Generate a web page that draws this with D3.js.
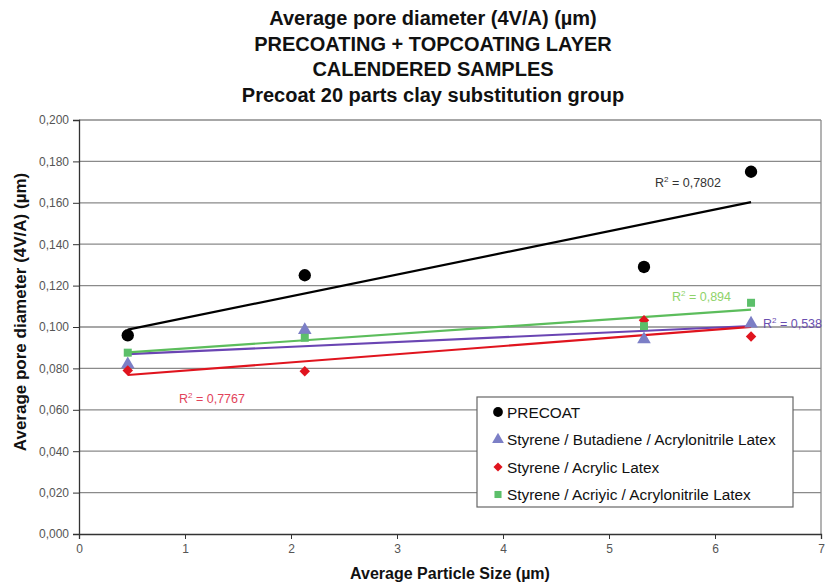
<!DOCTYPE html>
<html>
<head>
<meta charset="utf-8">
<script src="https://cdn.jsdelivr.net/npm/d3@7"></script>
<style>
  body { margin: 0; background: #fff; }
  svg { display: block; }
  .lbl { font-family: "Liberation Sans", Arial, sans-serif; }
</style>
</head>
<body>
<svg width="825" height="584"></svg>
<script>
const titleLines = [
  "Average pore diameter (4V/A) (\u00b5m)",
  "PRECOATING + TOPCOATING LAYER",
  "CALENDERED SAMPLES",
  "Precoat 20 parts clay substitution group"
];
const xLabel = "Average Particle Size (\u00b5m)";
const yLabel = "Average pore diameter (4V/A) (\u00b5m)";

const particleSize = [0.46, 2.13, 5.33, 6.34];
const precoat = [0.096, 0.125, 0.129, 0.175];
const sbaLatex = [0.082, 0.0985, 0.094, 0.1017];
const saLatex = [0.079, 0.0786, 0.1033, 0.0954];
const saaLatex = [0.0876, 0.0948, 0.1004, 0.1117];

const seriesNames = [
  "PRECOAT",
  "Styrene / Butadiene / Acrylonitrile Latex",
  "Styrene / Acrylic Latex",
  "Styrene / Acriyic / Acrylonitrile Latex"
];
const r2Labels = ["0,7802", "0,538", "0,7767", "0,894"];

const xTicks = [0, 1, 2, 3, 4, 5, 6, 7];
const yTicks = [0, 0.02, 0.04, 0.06, 0.08, 0.1, 0.12, 0.14, 0.16, 0.18, 0.2];

const series = [
  { name: seriesNames[0], values: precoat, marker: "circle", fill: "#000", line: "#000", r2: r2Labels[0], r2Color: "#333", r2At: [655, 187] },
  { name: seriesNames[1], values: sbaLatex, marker: "triangle", fill: "#7c7fc6", line: "#6a45b3", r2: r2Labels[1], r2Color: "#6a4fb0", r2At: [763, 328] },
  { name: seriesNames[2], values: saLatex, marker: "diamond", fill: "#e0141e", line: "#e0141e", r2: r2Labels[2], r2Color: "#e2435a", r2At: [179, 403] },
  { name: seriesNames[3], values: saaLatex, marker: "square", fill: "#5cbf6a", line: "#5cbd5c", r2: r2Labels[3], r2Color: "#8fd36a", r2At: [672, 301] }
];

const margin = { left: 79, right: 4, top: 120, bottom: 50 };
const width = 825, height = 584;
const svg = d3.select("svg");

const x = d3.scaleLinear().domain([0, 7]).range([margin.left, width - margin.right]);
const y = d3.scaleLinear().domain([0, 0.2]).range([height - margin.bottom, margin.top]);

const fmt = d => d3.format(".3f")(d).replace(".", ",");

// titles
svg.append("g").selectAll("text")
  .data(titleLines)
  .enter()
  .append("text")
  .attr("class", "lbl")
  .attr("x", 433)
  .attr("y", (d, i) => 25 + i * 25.5)
  .attr("text-anchor", "middle")
  .attr("font-size", 20)
  .attr("font-weight", "bold")
  .attr("fill", "#111")
  .text(d => d);

// gridlines
svg.append("g").selectAll("line")
  .data(yTicks.slice(1))
  .enter()
  .append("line")
  .attr("x1", x(0)).attr("x2", x(7))
  .attr("y1", d => y(d)).attr("y2", d => y(d))
  .attr("stroke", "#8a8a8a")
  .attr("stroke-width", 1.3);

svg.append("line")
  .attr("x1", x(7)).attr("x2", x(7))
  .attr("y1", y(0)).attr("y2", y(0.2))
  .attr("stroke", "#8a8a8a")
  .attr("stroke-width", 1.3);

// axes
const xAxis = svg.append("g")
  .attr("transform", `translate(0,${y(0)})`)
  .call(d3.axisBottom(x).tickValues(xTicks).tickSize(5).tickPadding(5).tickFormat(d3.format("d")));
const yAxis = svg.append("g")
  .attr("transform", `translate(${x(0)},0)`)
  .call(d3.axisLeft(y).tickValues(yTicks).tickSize(6).tickPadding(4).tickFormat(fmt));

[xAxis, yAxis].forEach(a => {
  a.select(".domain").attr("stroke", "#333").attr("stroke-width", 1.3);
  a.selectAll(".tick line").attr("stroke", "#333");
  a.selectAll(".tick text")
    .attr("fill", "#555")
    .attr("font-size", 12)
    .attr("font-family", "'Liberation Sans', Arial, sans-serif");
});

svg.append("text")
  .attr("class", "lbl")
  .attr("x", 450).attr("y", 579)
  .attr("text-anchor", "middle")
  .attr("font-size", 16)
  .attr("font-weight", "bold")
  .attr("fill", "#111")
  .text(xLabel);

svg.append("text")
  .attr("class", "lbl")
  .attr("transform", "translate(26,312) rotate(-90)")
  .attr("text-anchor", "middle")
  .attr("font-size", 17)
  .attr("font-weight", "bold")
  .attr("fill", "#111")
  .text(yLabel);

// linear trendlines
function fit(xs, ys) {
  const mx = d3.mean(xs), my = d3.mean(ys);
  const sxy = d3.sum(xs, (v, i) => (v - mx) * (ys[i] - my));
  const sxx = d3.sum(xs, v => (v - mx) * (v - mx));
  const b = sxy / sxx;
  return v => my + b * (v - mx);
}

const xEnds = d3.extent(particleSize);
series.forEach(s => {
  const f = fit(particleSize, s.values);
  svg.append("line")
    .attr("x1", x(xEnds[0])).attr("y1", y(f(xEnds[0])))
    .attr("x2", x(xEnds[1])).attr("y2", y(f(xEnds[1])))
    .attr("stroke", s.line)
    .attr("stroke-width", 2.2);
});

// markers (diamond = square turned 45deg)
const symbolFor = {
  circle: { sym: d3.symbol().type(d3.symbolCircle).size(120), rot: 0 },
  triangle: { sym: d3.symbol().type(d3.symbolTriangle).size(80), rot: 0 },
  diamond: { sym: d3.symbol().type(d3.symbolSquare).size(55), rot: 45 },
  square: { sym: d3.symbol().type(d3.symbolSquare).size(64), rot: 0 }
};

series.forEach(s => {
  const m = symbolFor[s.marker];
  svg.append("g").selectAll("path")
    .data(s.values)
    .enter()
    .append("path")
    .attr("transform", (d, i) => `translate(${x(particleSize[i])},${y(d)}) rotate(${m.rot})`)
    .attr("d", m.sym())
    .attr("fill", s.fill);
});

// R² labels
series.forEach(s => {
  const t = svg.append("text")
    .attr("x", s.r2At[0]).attr("y", s.r2At[1])
    .attr("font-family", "'Liberation Sans', Arial, sans-serif")
    .attr("font-size", 12.5)
    .attr("fill", s.r2Color);
  t.append("tspan").text("R");
  t.append("tspan").attr("dy", -5).attr("font-size", 8).text("2");
  t.append("tspan").attr("dy", 5).text(" = " + s.r2);
});

// legend
const legend = svg.append("g").attr("transform", "translate(477,397)");
legend.append("rect")
  .attr("width", 316).attr("height", 110)
  .attr("fill", "#fff")
  .attr("stroke", "#666")
  .attr("stroke-width", 1.2);

const legendSym = {
  circle: { sym: d3.symbol().type(d3.symbolCircle).size(75), rot: 0 },
  triangle: { sym: d3.symbol().type(d3.symbolTriangle).size(60), rot: 0 },
  diamond: { sym: d3.symbol().type(d3.symbolSquare).size(42), rot: 45 },
  square: { sym: d3.symbol().type(d3.symbolSquare).size(50), rot: 0 }
};

const items = legend.selectAll("g.item")
  .data(series)
  .enter()
  .append("g")
  .attr("class", "item")
  .attr("transform", (d, i) => `translate(0,${15 + i * 27.5})`);

items.append("path")
  .attr("transform", d => `translate(21,0) rotate(${legendSym[d.marker].rot})`)
  .attr("d", d => legendSym[d.marker].sym())
  .attr("fill", d => d.fill);

items.append("text")
  .attr("x", 30).attr("y", 5.5)
  .attr("font-family", "'Liberation Sans', Arial, sans-serif")
  .attr("font-size", 15.4)
  .attr("fill", "#111")
  .text(d => d.name);
</script>
</body>
</html>
